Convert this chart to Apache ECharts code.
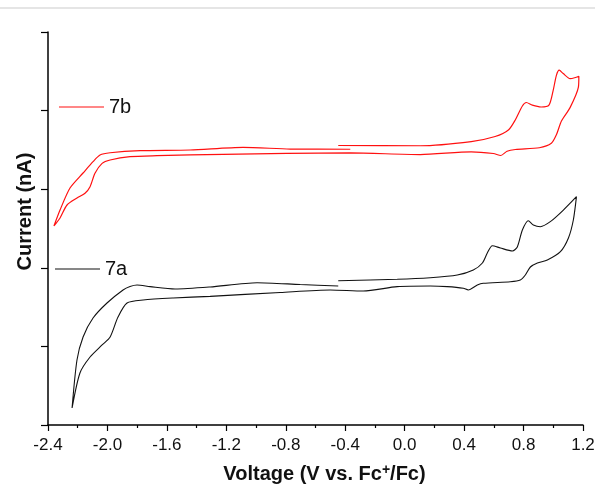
<!DOCTYPE html>
<html>
<head>
<meta charset="utf-8">
<script src="https://cdn.jsdelivr.net/npm/echarts@6/dist/echarts.min.js"></script>
<style>
    html, body { margin: 0; padding: 0; background: #fff; }
    #main { width: 595px; height: 484px; }
</style>
</head>
<body>
<div id="main"></div>
<script>
// 7a (black) - one closed CV loop, points in scan order
var vA = [-0.447, -0.050, 0.172, 0.354, 0.462, 0.523, 0.556, 0.590, 0.644, 0.725, 0.758, 0.792, 0.832, 0.866, 0.913, 0.980, 1.068, 1.156,
    1.135, 1.102, 1.048, 0.960, 0.893, 0.846, 0.812, 0.778, 0.711, 0.529, 0.489, 0.428, 0.395, 0.287, 0.172, -0.050, -0.279, -0.501,
    -0.838, -1.309, -1.558, -1.760, -1.868, -1.929, -1.982, -2.036, -2.117, -2.185, -2.238,
    -2.205, -2.164, -2.097, -2.003, -1.895, -1.848, -1.801, -1.713, -1.545, -1.309, -0.993, -0.703, -0.447];
var iA = [1.836, 1.854, 1.874, 1.908, 1.972, 2.061, 2.188, 2.281, 2.252, 2.214, 2.265, 2.481, 2.599, 2.545, 2.523, 2.587, 2.735, 2.905,
    2.608, 2.379, 2.205, 2.099, 2.061, 2.010, 1.908, 1.845, 1.823, 1.803, 1.781, 1.718, 1.739, 1.760, 1.768, 1.760, 1.705, 1.718,
    1.686, 1.637, 1.616, 1.590, 1.552, 1.374, 1.120, 1.018, 0.865, 0.662, 0.216,
    0.827, 1.120, 1.361, 1.552, 1.718, 1.762, 1.781, 1.760, 1.730, 1.756, 1.810, 1.787, 1.768];

// 7b (red)
var vB = [-0.447, 0.105, 0.448, 0.609, 0.700, 0.746, 0.792, 0.819, 0.859, 0.918, 0.971, 0.999, 1.021, 1.040, 1.067, 1.113, 1.159, 1.172,
    1.169, 1.113, 1.055, 1.021, 0.987, 0.906, 0.745, 0.689, 0.647, 0.597, 0.448, 0.105, -0.366, -1.222, -1.666, -1.848, -1.982,
    -2.036, -2.084, -2.117, -2.151, -2.205, -2.272, -2.319, -2.360,
    -2.319, -2.252, -2.164, -2.097, -2.050, -1.982, -1.780, -1.444, -1.087, -0.770, -0.366];
var iB = [3.556, 3.553, 3.606, 3.670, 3.757, 3.887, 4.059, 4.103, 4.069, 4.046, 4.069, 4.254, 4.449, 4.514, 4.471, 4.406, 4.427, 4.436,
    4.298, 4.038, 3.868, 3.692, 3.584, 3.527, 3.505, 3.483, 3.429, 3.454, 3.476, 3.441, 3.461, 3.444, 3.426, 3.414, 3.372,
    3.329, 3.202, 3.032, 2.948, 2.888, 2.799, 2.634, 2.532,
    2.735, 3.015, 3.206, 3.350, 3.435, 3.464, 3.490, 3.499, 3.533, 3.511, 3.508];

var xTicksMin = -2.4, xTicksMax = 1.2, xStep = 0.4;

function zip(xs, ys) {
    var out = [];
    for (var i = 0; i < xs.length; i++) {
        out.push([xs[i], ys[i]]);
    }
    return out;
}

var font = 'Liberation Sans, Arial, sans-serif';
var myChart = echarts.init(document.getElementById('main'));

var option = {
    animation: false,
    grid: { left: 48, right: 12, top: 32, bottom: 59, outerBoundsMode: 'none' },
    graphic: [{
        type: 'line',
        shape: { x1: 0, y1: 8, x2: 595, y2: 8 },
        style: { stroke: '#dcdcdc', lineWidth: 1.5 }
    }],
    legend: [
        {
            data: ['7b'], left: 54, top: 92, icon: 'rect', itemWidth: 45, itemHeight: 1.2,
            textStyle: { fontFamily: font, fontSize: 20, color: '#111' }
        },
        {
            data: ['7a'], left: 50, top: 254, icon: 'rect', itemWidth: 45, itemHeight: 1.2,
            textStyle: { fontFamily: font, fontSize: 20, color: '#111' }
        }
    ],
    xAxis: {
        type: 'value',
        min: xTicksMin,
        max: xTicksMax,
        interval: xStep,
        name: 'Voltage (V vs. Fc{sup|+}/Fc)',
        nameLocation: 'middle',
        nameGap: 38,
        nameTextStyle: {
            fontFamily: font, fontSize: 20, fontWeight: 'bold', color: '#111',
            padding: [0, 0, 0, 18],
            rich: { sup: { fontFamily: font, fontSize: 14, fontWeight: 'bold', color: '#111', verticalAlign: 'top', padding: [0, 0, 9, 0] } }
        },
        axisLine: { onZero: false, lineStyle: { color: '#000', width: 1.5 } },
        axisTick: { length: 6, lineStyle: { color: '#000', width: 1.2 } },
        minorTick: { show: true, splitNumber: 2, length: 3, lineStyle: { color: '#000', width: 1.2 } },
        splitLine: { show: false },
        axisLabel: {
            fontFamily: font, fontSize: 17, color: '#111', margin: 12,
            formatter: function (v) { return v.toFixed(1); }
        }
    },
    yAxis: {
        type: 'value',
        min: 0,
        max: 5,
        interval: 1,
        name: 'Current (nA)',
        nameLocation: 'middle',
        nameGap: 13,
        nameTextStyle: {
            fontFamily: font, fontSize: 20, fontWeight: 'bold', color: '#111',
            padding: [0, 0, 0, 34]
        },
        axisLine: { show: true, onZero: false, lineStyle: { color: '#000', width: 1.5 } },
        axisTick: { show: true, length: 7, lineStyle: { color: '#000', width: 1.2 } },
        splitLine: { show: false },
        axisLabel: { show: false }
    },
    series: [
        {
            name: '7b',
            type: 'line',
            data: zip(vB, iB),
            smooth: 0.25,
            symbol: 'none',
            lineStyle: { color: '#ff1010', width: 1.2 },
            itemStyle: { color: '#ff1010' }
        },
        {
            name: '7a',
            type: 'line',
            data: zip(vA, iA),
            smooth: 0.25,
            symbol: 'none',
            lineStyle: { color: '#111', width: 1.1 },
            itemStyle: { color: '#111' }
        }
    ]
};

myChart.setOption(option);
</script>
</body>
</html>
